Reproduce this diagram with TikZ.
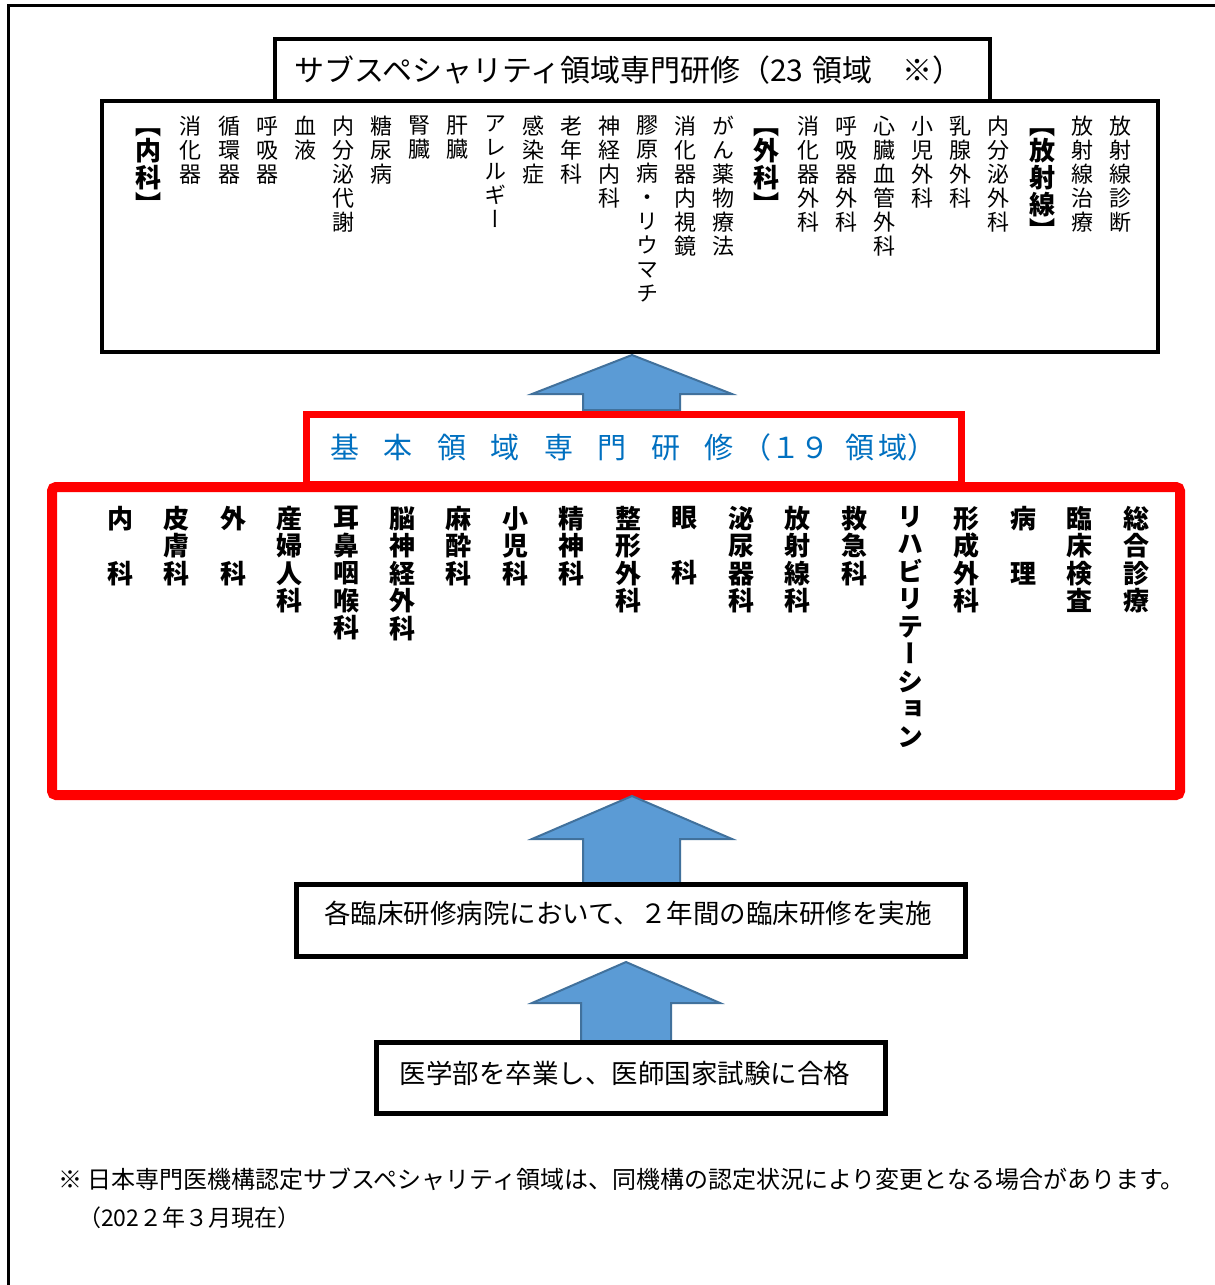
\documentclass[tikz,border=0pt]{standalone}
\usepackage{fontspec}
\setmainfont{Noto Sans CJK JP}
\newfontfamily\vfont[RawFeature=+vert]{Noto Sans CJK JP}
\definecolor{titleblue}{HTML}{0070C0}
\definecolor{arrowfill}{HTML}{5B9BD5}
\definecolor{arrowline}{HTML}{41719C}
\definecolor{framered}{HTML}{FF0000}
\newcommand\bgap{\hspace{24.5pt}}
\tikzset{
  box/.style={draw, rectangle, inner sep=0pt},
  subcol/.style={anchor=north, align=center, inner sep=0pt, font=\vfont\fontsize{22}{24}\selectfont},
  subhead/.style={anchor=north, align=center, inner sep=0pt, font=\vfont\bfseries\fontsize{26}{26.7}\selectfont},
  basecol/.style={anchor=north, align=center, inner sep=0pt, font=\vfont\bfseries\fontsize{26}{27.5}\selectfont},
  blockarrow/.style={fill=arrowfill, draw=arrowline, line width=2pt},
  hlabel/.style={inner sep=0pt},
}
\begin{document}
\begin{tikzpicture}[x=1pt,y=-1pt]
\useasboundingbox (0,0) rectangle (1215,1285);
\fill[white] (0,0) rectangle (1215,1285);
\draw[line width=3pt] (8,1290) -- (8,5) -- (1220,5);

% arrow from basic to subspecialty
\path[blockarrow] (632,355) -- (732,394) -- (680,394) -- (680,410) -- (583,410) -- (583,394) -- (532,394) -- cycle;

% subspecialty
\node[box, line width=3.5pt, minimum width=1056pt, minimum height=251pt] (subbox) at (630,226.5) {};
\node[box, line width=3.5pt, fill=white, minimum width=715pt, minimum height=62pt] (subtitle) at (632.5,70) {};
\node[hlabel, anchor=west, font=\fontsize{30}{32}\selectfont] (subtitletext) at (294,70) {サブスペシャリティ領域専門研修（23\hspace{9pt}領域　※）};

\node[subcol] (s1) at (1120,116) {放\\射\\線\\診\\断};
\node[subcol] (s2) at (1082,116) {放\\射\\線\\治\\療};
\node[subhead] (s3) at (1042,128) {【\\放\\射\\線\\】};
\node[subcol] (s4) at (998,116) {内\\分\\泌\\外\\科};
\node[subcol] (s5) at (960,116) {乳\\腺\\外\\科};
\node[subcol] (s6) at (922,116) {小\\児\\外\\科};
\node[subcol] (s7) at (884,116) {心\\臓\\血\\管\\外\\科};
\node[subcol] (s8) at (846,116) {呼\\吸\\器\\外\\科};
\node[subcol] (s9) at (808,116) {消\\化\\器\\外\\科};
\node[subhead] (s10) at (766,128) {【\\外\\科\\】};
\node[subcol] (s11) at (723,116) {が\\ん\\薬\\物\\療\\法};
\node[subcol] (s12) at (685,116) {消\\化\\器\\内\\視\\鏡};
\node[subcol] (s13) at (647,116) {膠\\原\\病\\・\\リ\\ウ\\マ\\チ};
\node[subcol] (s14) at (609,116) {神\\経\\内\\科};
\node[subcol] (s15) at (571,116) {老\\年\\科};
\node[subcol] (s16) at (533,116) {感\\染\\症};
\node[subcol] (s17) at (495,116) {ア\\レ\\ル\\ギ\\ー};
\node[subcol] (s18) at (457,116) {肝\\臓};
\node[subcol] (s19) at (419,116) {腎\\臓};
\node[subcol] (s20) at (381,116) {糖\\尿\\病};
\node[subcol] (s21) at (343,116) {内\\分\\泌\\代\\謝};
\node[subcol] (s22) at (305,116) {血\\液};
\node[subcol] (s23) at (267,116) {呼\\吸\\器};
\node[subcol] (s24) at (229,116) {循\\環\\器};
\node[subcol] (s25) at (190,116) {消\\化\\器};
\node[subhead] (s26) at (148,128) {【\\内\\科\\】};

% basic
\node[box, draw=framered, line width=7pt, fill=white, minimum width=655pt, minimum height=70pt] (basetitle) at (633.5,449) {};
\node[box, draw=framered, line width=10pt, rounded corners=4pt, minimum width=1128pt, minimum height=308pt] (basebox) at (616,641) {};
\node[hlabel, anchor=west, text=titleblue, font=\fontsize{29}{31}\selectfont] (basetitletext) at (330,447) {基\bgap 本\bgap 領\bgap 域\bgap 専\bgap 門\bgap 研\bgap 修\hspace{9pt}（１９\hspace{16pt}領\hspace{4pt}域）};

\node[basecol] (b1) at (120,506) {内\\　\\科};
\node[basecol] (b2) at (176.5,506) {皮\\膚\\科};
\node[basecol] (b3) at (233,506) {外\\　\\科};
\node[basecol] (b4) at (289.5,506) {産\\婦\\人\\科};
\node[basecol] (b5) at (346,506) {耳\\鼻\\咽\\喉\\科};
\node[basecol] (b6) at (402,506) {脳\\神\\経\\外\\科};
\node[basecol] (b7) at (458.5,506) {麻\\酔\\科};
\node[basecol] (b8) at (515,506) {小\\児\\科};
\node[basecol] (b9) at (571.5,506) {精\\神\\科};
\node[basecol] (b10) at (628,506) {整\\形\\外\\科};
\node[basecol] (b11) at (684.5,506) {眼\\　\\科};
\node[basecol] (b12) at (741,506) {泌\\尿\\器\\科};
\node[basecol] (b13) at (797.5,506) {放\\射\\線\\科};
\node[basecol] (b14) at (854,506) {救\\急\\科};
\node[basecol] (b15) at (910,506) {リ\\ハ\\ビ\\リ\\テ\\ー\\シ\\ョ\\ン};
\node[basecol] (b16) at (966.5,506) {形\\成\\外\\科};
\node[basecol] (b17) at (1023,506) {病\\　\\理};
\node[basecol] (b18) at (1079.5,506) {臨\\床\\検\\査};
\node[basecol] (b19) at (1136,506) {総\\合\\診\\療};

% arrow from clinical to basic
\path[blockarrow] (632,796) -- (732,839) -- (680,839) -- (680,884) -- (583,884) -- (583,839) -- (532,839) -- cycle;

% clinical training
\node[box, line width=5pt, minimum width=669pt, minimum height=72pt] (clinbox) at (630.5,920) {};
\node[hlabel, font=\fontsize{26.5}{28}\selectfont] (clintext) at (628,913) {各臨床研修病院において、２年間の臨床研修を実施};

% arrow from graduation to clinical
\path[blockarrow] (626,962) -- (720,1003) -- (671,1003) -- (671,1042) -- (581,1042) -- (581,1003) -- (532,1003) -- cycle;

% graduation
\node[box, line width=5pt, minimum width=509pt, minimum height=71pt] (gradbox) at (630.5,1077.5) {};
\node[hlabel, font=\fontsize{26.5}{28}\selectfont] (gradtext) at (625,1073) {医学部を卒業し、医師国家試験に合格};

% note
\node[hlabel, anchor=west, font=\fontsize{24}{26}\selectfont] (note1) at (58,1179) {※ 日本専門医機構認定サブスペシャリティ領域は、同機構の認定状況により変更となる場合があります。};
\node[hlabel, anchor=west, font=\fontsize{23}{25}\selectfont] (note2) at (78,1218) {（202２年３月現在）};
\end{tikzpicture}
\end{document}
